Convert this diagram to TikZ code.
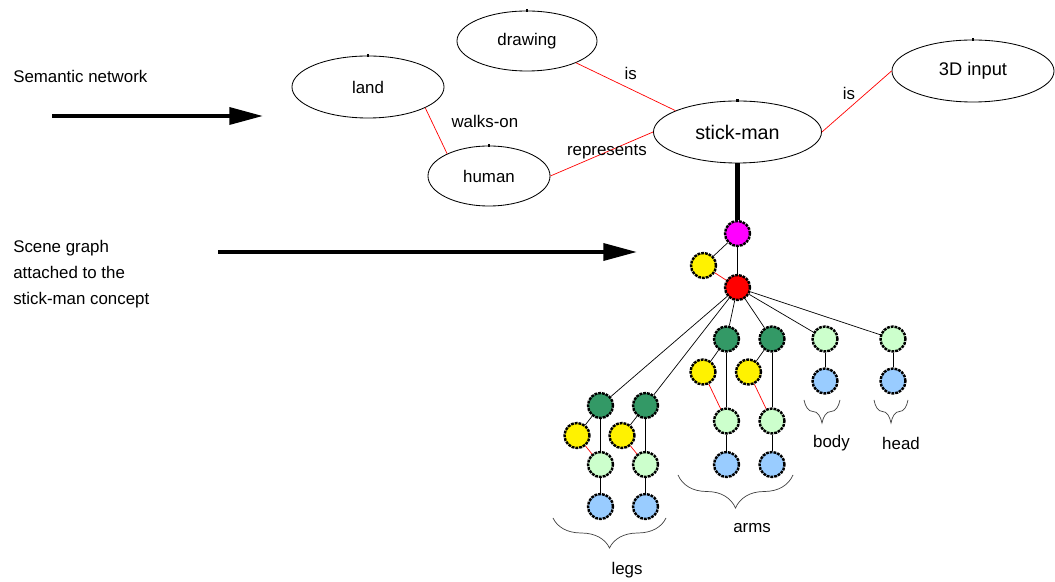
\documentclass[tikz,border=0pt]{standalone}
\usepackage{fontspec}
\setmainfont{Liberation Sans}
\usetikzlibrary{arrows.meta,positioning,shapes.geometric,decorations.pathreplacing}
\definecolor{limbgreen}{RGB}{51,153,102}
\definecolor{palegreen}{RGB}{204,255,204}
\definecolor{paleblue}{RGB}{153,204,255}
\definecolor{hotpink}{RGB}{255,0,255}

\tikzset{
  concept/.style={draw, ellipse, inner sep=0pt, line width=0.6pt,
    font=\fontsize{12}{14}\selectfont,
    label={[fill, inner sep=0pt, minimum size=2pt, anchor=center]90:{}}},
  relation/.style={red, line width=0.5pt},
  link/.style={black, line width=0.5pt},
  relname/.style={font=\fontsize{12}{14}\selectfont, inner sep=1pt, text=black},
  scenenode/.style={circle, draw, line width=1.7pt, dash pattern=on 2pt off 0.7pt,
    minimum size=0.625cm, inner sep=0pt},
  groupbrace/.style={draw=black!75, line width=0.5pt, decorate,
    decoration={brace, mirror, amplitude=#1}},
  grouplabel/.style={font=\fontsize{12}{14}\selectfont, inner sep=0pt},
  bigarrow/.style={line width=2.8pt, -{Triangle[length=24pt, width=12pt]}},
  caption/.style={font=\fontsize{12}{18.5}\selectfont, align=left, inner sep=0pt},
}

\begin{document}
\begin{tikzpicture}[x=0.025cm, y=-0.025cm]
\useasboundingbox (0,0) rectangle (1055,582);

% semantic network
\node[concept, minimum width=3.8cm, minimum height=1.55cm] (land) at (368,87) {land};
\node[concept, minimum width=3.5cm, minimum height=1.5cm] (drawing) at (527,41) {drawing};
\node[concept, minimum width=3.05cm, minimum height=1.5cm] (human) at (489,176) {human};
\node[concept, minimum width=4.2cm, minimum height=1.55cm,
      font=\fontsize{14}{16}\selectfont] (stickman) at (737.5,132) {stick-man};
\node[concept, minimum width=4.05cm, minimum height=1.55cm,
      font=\fontsize{13}{15}\selectfont] (input) at (973,71) {3D input};

\draw[relation] (land.-20) -- node[relname, pos=0.3, right=0.45cm] {walks-on} (human.152);
\draw[relation] (drawing.-24) -- node[relname, pos=0.55, above=0.2cm] {is} (stickman.161);
\draw[relation] (human.east) -- node[relname, pos=0.55] {represents} (stickman.west);
\draw[relation] (stickman.east) -- node[relname, midway, above left=0pt] {is} (input.west);

% scene graph
\node[scenenode, fill=hotpink] (root) at (737.5,233.5) {};
\node[scenenode, fill=yellow] (rootjoint) at (703.5,265.5) {};
\node[scenenode, fill=red] (figure) at (737.5,287.5) {};
\draw[line width=4.2pt] (stickman) -- (root);
\draw[link] (root) -- (rootjoint);
\draw[link] (root) -- (figure);
\draw[relation] (rootjoint) -- (figure);

\foreach \limb/\x/\ytop/\yjoint/\ymid/\yend in {%
    leg1/600.5/405.5/435.5/464.5/506.5, leg2/645.5/405.5/435.5/464.5/506.5,
    arm1/726.5/339/372/421/464.5, arm2/772/339/372/421/464.5}{
  \node[scenenode, fill=limbgreen] (\limb-top) at (\x,\ytop) {};
  \node[scenenode, fill=yellow] (\limb-joint) at ({\x-23.5},\yjoint) {};
  \node[scenenode, fill=palegreen] (\limb-mid) at (\x,\ymid) {};
  \node[scenenode, fill=paleblue] (\limb-end) at (\x,\yend) {};
  \draw[link] (figure) -- (\limb-top);
  \draw[link] (\limb-top) -- (\limb-joint);
  \draw[link] (\limb-top) -- (\limb-mid);
  \draw[relation] (\limb-joint) -- (\limb-mid);
  \draw[link] (\limb-mid) -- (\limb-end);
}
\foreach \part/\x in {body/825, head/893}{
  \node[scenenode, fill=palegreen] (\part-top) at (\x,339) {};
  \node[scenenode, fill=paleblue] (\part-end) at (\x,381) {};
  \draw[link] (figure) -- (\part-top);
  \draw[link] (\part-top) -- (\part-end);
}

% groups
\draw[groupbrace=0.75cm] (553,518) -- (666,518);
\draw[groupbrace=0.825cm] (678,475) -- (793,475);
\draw[groupbrace=0.575cm] (804,400) -- (840,400);
\draw[groupbrace=0.575cm] (874,400) -- (908,400);
\node[grouplabel] (legs) at (627,570) {legs};
\node[grouplabel] (arms) at (752,528) {arms};
\node[grouplabel] (body) at (831.5,443) {body};
\node[grouplabel] (head) at (901,443) {head};

% captions
\node[caption, anchor=base west] (semcaption) at (13,83) {Semantic network};
\coordinate (semtail) at (52,116);
\coordinate (semhead) at (263,116);
\draw[bigarrow] (semtail) -- (semhead);
\node[caption, anchor=base west] (scenecaption) at (13,305)
  {Scene graph\\attached to the\\stick-man concept};
\coordinate (scenetail) at (218,252);
\coordinate (scenehead) at (637,252);
\draw[bigarrow] (scenetail) -- (scenehead);
\end{tikzpicture}
\end{document}
